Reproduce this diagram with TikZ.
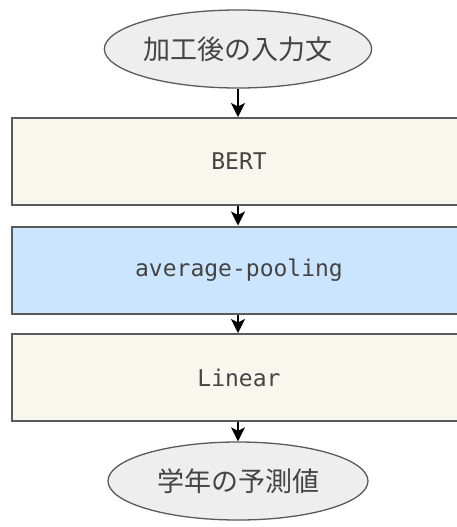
\documentclass[tikz,border=0pt]{standalone}
\usepackage{fontspec}
\setmonofont{DejaVu Sans Mono}
\newfontfamily\jpfont{Noto Sans CJK JP}
\usetikzlibrary{shapes.geometric,arrows.meta}
\definecolor{boxline}{HTML}{5A5A5A}
\definecolor{beige}{HTML}{F9F7ED}
\definecolor{lblue}{HTML}{CCE5FF}
\definecolor{ellfill}{HTML}{EEEEEE}
\definecolor{txt}{HTML}{444444}
\tikzset{
  layerbox/.style={draw=boxline, line width=2pt, minimum width=454pt, minimum height=87pt, inner sep=0pt,
    font=\ttfamily\fontsize{23}{27}\selectfont, text=txt},
  term/.style={ellipse, draw=boxline, line width=1.3pt, fill=ellfill, minimum width=260pt, minimum height=78pt,
    inner sep=0pt, font=\jpfont\fontsize{27}{30}\selectfont, text=txt},
  flow/.style={line width=1.4pt, -{Stealth[length=14pt,width=14pt,inset=3.5pt]}}
}
\begin{document}
\begin{tikzpicture}[x=1pt,y=-1pt]
\useasboundingbox (0,0) rectangle (456,527);
\node[term] (in) at (238,49) {加工後の入力文};
\node[layerbox, fill=beige] (bert) at (239,161.5) {BERT};
\node[layerbox, fill=lblue] (pool) at (239,270) {average-pooling};
\node[layerbox, fill=beige] (lin) at (239,377.5) {Linear};
\node[term] (out) at (238,481) {学年の予測値};
\draw[flow] (in.south) -- (in.south |- bert.north);
\draw[flow] (bert.south -| in.south) -- (in.south |- pool.north);
\draw[flow] (pool.south -| in.south) -- (in.south |- lin.north);
\draw[flow] (lin.south -| in.south) -- (out.north);
\end{tikzpicture}
\end{document}
